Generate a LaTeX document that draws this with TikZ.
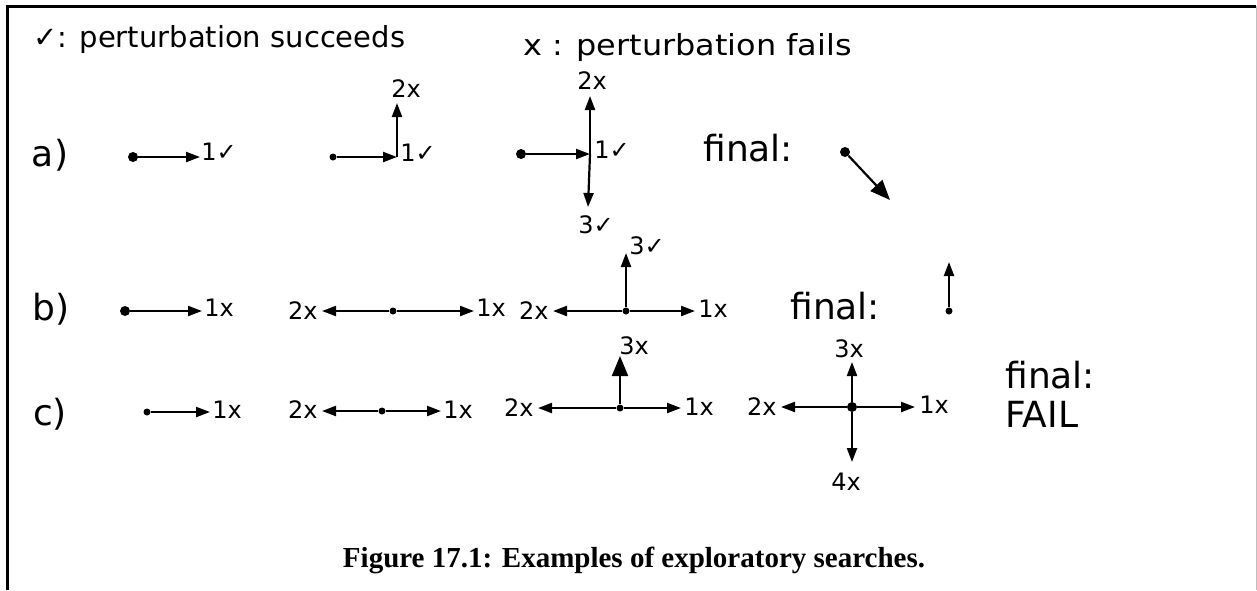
\documentclass[tikz,border=0pt]{standalone}
\usepackage{fontspec}
\setmainfont{Liberation Serif}
\newfontfamily\hand{DejaVu Sans}
\usetikzlibrary{arrows.meta}
\begin{document}
\begin{tikzpicture}[x=0.5pt,y=-0.5pt,
  dotn/.style={circle,fill=black,inner sep=0pt,minimum size=5pt},
  sdot/.style={circle,fill=black,inner sep=0pt,minimum size=3.5pt},
  arr/.style={line width=1.1pt,-{Triangle[length=7pt,width=5pt]}},
  bigarr/.style={line width=1.1pt,-{Triangle[length=10pt,width=8pt]}},
  hw/.style={font=\hand\fontsize{12}{14}\selectfont,inner sep=0pt},
  hwl/.style={font=\hand\fontsize{14.5}{16}\selectfont,inner sep=0pt},
  hwf/.style={font=\hand\fontsize{18}{20}\selectfont,inner sep=0pt},
  captext/.style={font=\bfseries\fontsize{14.5}{16}\selectfont,inner sep=0pt}
]
\useasboundingbox (0,0) rectangle (1257,590);
% frame
\draw[line width=1.5pt] (7,590) -- (7,6) -- (1256,6);
\draw[black!25,line width=0.5pt] (1256,6) -- (1256,590);

% header
\node[hwl,anchor=base west] (h1) at (33,47) {✓: perturbation succeeds};
\node[hwl,anchor=base west] (h2) at (523,55) {\scalebox{1.1}[1]{x : perturbation fails}};

% ---------- row a ----------
\node[hwf] (la) at (50,155) {a)};
% a1
\node[dotn] (a1o) at (133,157) {};
\coordinate (a1r) at (200,157);
\draw[arr] (a1o) -- (a1r);
\node[hw,anchor=west] (a1rl) at (201,152) {1✓};
% a2
\node[sdot] (a2o) at (333,157) {};
\coordinate (a2r) at (397,157);
\coordinate (a2u) at (397,103);
\draw[arr] (a2o) -- (a2r);
\draw[arr] (a2r) -- (a2u);
\node[hw,anchor=west] (a2rl) at (400,153) {1✓};
\node[hw] (a2ul) at (406,89) {2x};
% a3
\node[dotn] (a3o) at (521,154) {};
\coordinate (a3r) at (590,154);
\coordinate (a3u) at (590,96);
\coordinate (a3d) at (588,207);
\draw[arr] (a3o) -- (a3r);
\draw[arr] (a3r) -- (a3u);
\draw[arr] (a3r) -- (a3d);
\node[hw,anchor=west] (a3rl) at (594,150) {1✓};
\node[hw] (a3ul) at (592,81) {2x};
\node[hw] (a3dl) at (596,225) {3✓};
% final a
\node[hwf,anchor=base west] (fa) at (703,161) {final:};
\node[dotn] (fao) at (845,152) {};
\coordinate (fat) at (890,200);
\draw[bigarr] (fao) -- (fat);

% ---------- row b ----------
\node[hwf] (lb) at (51,309) {b)};
% b1
\node[dotn] (b1o) at (125,311) {};
\coordinate (b1r) at (202,311);
\draw[arr] (b1o) -- (b1r);
\node[hw,anchor=west] (b1rl) at (204,308) {1x};
% b2
\node[sdot] (b2o) at (393,311) {};
\coordinate (b2l) at (322,311);
\coordinate (b2r) at (474,311);
\draw[arr] (b2o) -- (b2l);
\draw[arr] (b2o) -- (b2r);
\node[hw,anchor=east] (b2ll) at (318,311) {2x};
\node[hw,anchor=west] (b2rl) at (476,308) {1x};
% b3
\node[sdot] (b3o) at (626,311) {};
\coordinate (b3l) at (553,311);
\coordinate (b3r) at (695,311);
\coordinate (b3u) at (626,253);
\draw[arr] (b3o) -- (b3l);
\draw[arr] (b3o) -- (b3r);
\draw[arr] (b3o) -- (b3u);
\node[hw,anchor=east] (b3ll) at (549,311) {2x};
\node[hw,anchor=west] (b3rl) at (698,309) {1x};
\node[hw,anchor=west] (b3ul) at (629,246) {3✓};
% final b
\node[hwf,anchor=base west] (fb) at (790,319) {final:};
\node[sdot] (fbo) at (949,311) {};
\coordinate (fbt) at (949,262);
\draw[arr] (fbo) -- (fbt);

% ---------- row c ----------
\node[hwf] (lc) at (50,414) {c)};
% c1
\node[sdot] (c1o) at (147,412) {};
\coordinate (c1r) at (210,412);
\draw[arr] (c1o) -- (c1r);
\node[hw,anchor=west] (c1rl) at (212,410) {1x};
% c2
\node[sdot] (c2o) at (382,411) {};
\coordinate (c2l) at (322,411);
\coordinate (c2r) at (441,411);
\draw[arr] (c2o) -- (c2l);
\draw[arr] (c2o) -- (c2r);
\node[hw,anchor=east] (c2ll) at (318,410) {2x};
\node[hw,anchor=west] (c2rl) at (443,410) {1x};
% c3
\node[sdot] (c3o) at (620,408) {};
\coordinate (c3l) at (538,408);
\coordinate (c3r) at (681,408);
\coordinate (c3u) at (620,356);
\draw[arr] (c3o) -- (c3l);
\draw[arr] (c3o) -- (c3r);
\draw[bigarr] (c3o) -- (c3u);
\node[hw,anchor=east] (c3ll) at (534,408) {2x};
\node[hw,anchor=west] (c3rl) at (684,407) {1x};
\node[hw] (c3ul) at (634,346) {3x};
% c4
\node[dotn] (c4o) at (852,407) {};
\coordinate (c4l) at (781,407);
\coordinate (c4r) at (915,407);
\coordinate (c4u) at (852,362);
\coordinate (c4d) at (852,462);
\draw[arr] (c4o) -- (c4l);
\draw[arr] (c4o) -- (c4r);
\draw[arr] (c4o) -- (c4u);
\draw[arr] (c4o) -- (c4d);
\node[hw,anchor=east] (c4ll) at (777,407) {2x};
\node[hw,anchor=west] (c4rl) at (919,405) {1x};
\node[hw] (c4ul) at (849,349) {3x};
\node[hw] (c4dl) at (846,482) {4x};
% final c
\node[hwf,anchor=base west] (fc) at (1005,388) {final:};
\node[hwf,anchor=base west] (fail) at (1005,427) {FAIL};

% caption
\node[captext,anchor=base] (caption) at (634,567) {Figure 17.1: Examples of exploratory searches.};
\end{tikzpicture}
\end{document}
